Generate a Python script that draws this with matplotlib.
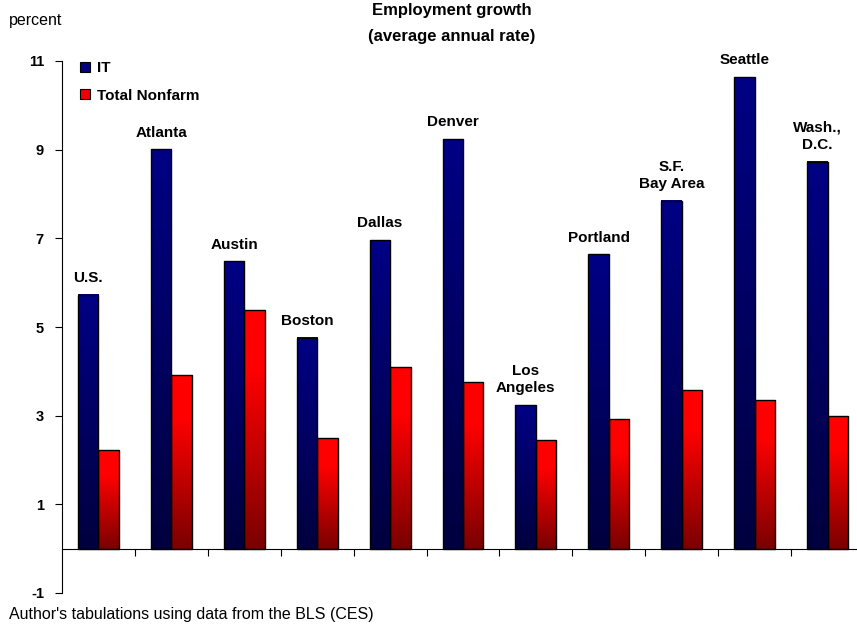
import numpy as np
import matplotlib
matplotlib.use("Agg")
import matplotlib.pyplot as plt
from matplotlib.lines import Line2D
from matplotlib.colors import to_rgb

plt.rcParams['font.family'] = ['Liberation Sans', 'DejaVu Sans']

cities = ["U.S.", "Atlanta", "Austin", "Boston", "Dallas", "Denver",
          "Los\nAngeles", "Portland", "S.F.\nBay Area", "Seattle", "Wash.,\nD.C."]
it_growth = [5.73, 9.01, 6.48, 4.76, 6.96, 9.24, 3.24, 6.64, 7.85, 10.64, 8.73]
nonfarm_growth = [2.22, 3.92, 5.39, 2.49, 4.09, 3.75, 2.45, 2.93, 3.58, 3.35, 3.00]
yticks = [-1, 1, 3, 5, 7, 9, 11]

W, H = 857, 629
fig = plt.figure(figsize=(W / 100, H / 100), dpi=100)
ax = fig.add_axes([62 / W, (H - 593) / H, (864 - 62) / W, (593 - 61) / H])

x = np.arange(len(cities))
bw = 0.28
bars_it = ax.bar(x - bw / 2, it_growth, width=bw, facecolor='none',
                 edgecolor='black', linewidth=1.0, zorder=3)
bars_nf = ax.bar(x + bw / 2, nonfarm_growth, width=bw, facecolor='none',
                 edgecolor='black', linewidth=1.0, zorder=3)


def gradient(top, bottom, n=256, hold=0.0):
    t = np.linspace(0, 1, n)
    t = np.clip((t - hold) / (1 - hold), 0, 1)
    a = np.array(to_rgb(top))
    b = np.array(to_rgb(bottom))
    return (a[None, :] * (1 - t[:, None]) + b[None, :] * t[:, None])[:, None, :]


g_blue = gradient('#000085', '#00003e')
g_red = gradient('#ff0000', '#7a0000', hold=0.25)
for bars, g in ((bars_it, g_blue), (bars_nf, g_red)):
    for p in bars:
        x0, w, h = p.get_x(), p.get_width(), p.get_height()
        ax.imshow(g, extent=(x0, x0 + w, 0, h), aspect='auto',
                  origin='upper', zorder=2, interpolation='bilinear')

ax.set_xlim(-0.5, len(cities) - 0.5)
ax.set_ylim(-1, 11)

# city labels above IT bars
for p, name in zip(bars_it, cities):
    ax.annotate(name, xy=(p.get_x() + p.get_width() / 2, p.get_height()),
                xytext=(0, 7), textcoords='offset points', ha='center',
                va='bottom', fontsize=11, fontweight='bold', linespacing=1.3)

ax.spines['top'].set_visible(False)
ax.spines['right'].set_visible(False)
ax.spines['left'].set_linewidth(0.8)
ax.spines['bottom'].set_position(('data', 0))
ax.spines['bottom'].set_linewidth(0.8)
ax.set_yticks(yticks)
ax.set_yticklabels([str(v) for v in yticks], fontsize=10.5, fontweight='bold')
ax.tick_params(axis='y', direction='out', length=5, width=0.8, pad=8)
ax.set_xticks(np.arange(len(cities) - 1) + 0.5)
ax.set_xticklabels([])
ax.tick_params(axis='x', direction='out', length=5, width=0.8)

handles = [Line2D([], [], marker='s', linestyle='none', markersize=7,
                  markerfacecolor='#000080', markeredgecolor='black', markeredgewidth=0.8),
           Line2D([], [], marker='s', linestyle='none', markersize=7,
                  markerfacecolor='#ee0000', markeredgecolor='black', markeredgewidth=0.8)]
leg = fig.legend(handles, ["IT", "Total Nonfarm"], loc='upper left',
                 bbox_to_anchor=(79 / W, 1 - 61 / H), frameon=False,
                 prop={'weight': 'bold', 'size': 11}, handlelength=0.8,
                 handletextpad=0.4, labelspacing=0.9, borderpad=0, borderaxespad=0)

fig.text(452 / W, 1 - 23.5 / H, "Employment growth\n(average annual rate)",
         ha='center', va='center', fontsize=12, fontweight='bold', linespacing=1.9)
fig.text(9 / W, 1 - 20 / H, "percent", ha='left', va='center', fontsize=11.5)
fig.text(9 / W, 1 - 615 / H, "Author's tabulations using data from the BLS (CES)",
         ha='left', va='center', fontsize=11.5)

fig.savefig("out.png", dpi=100)
